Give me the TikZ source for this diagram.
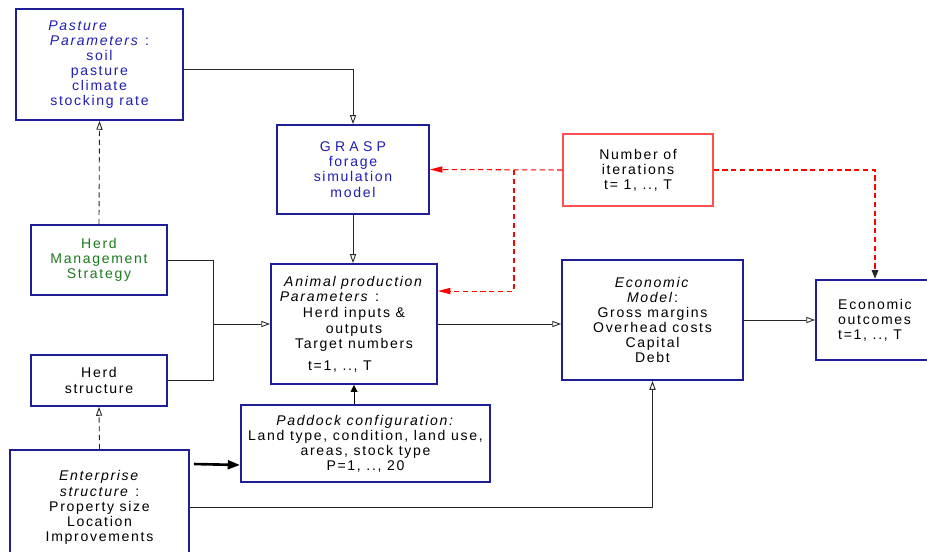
\documentclass[tikz,border=0pt]{standalone}
\usepackage{fontspec}
\setmainfont{Liberation Sans}[LetterSpace=12]
\usetikzlibrary{arrows.meta}
\definecolor{navy}{RGB}{30,30,150}
\definecolor{txtblue}{RGB}{30,30,180}
\definecolor{txtgreen}{RGB}{30,120,30}
\definecolor{itred}{RGB}{255,80,80}
\begin{document}
\begin{tikzpicture}[
    blk/.style={rectangle, draw=navy, line width=1.1pt, align=center, inner sep=2pt, font=\fontsize{8}{8.6}\selectfont},
    itr/.style={blk, draw=itred, line width=0.6pt},
    con/.style={draw=black!85, line width=0.5pt, -{Triangle[open, length=5pt, width=3.5pt]}},
    dsh/.style={con, densely dashed},
    rcon/.style={draw=red, densely dashed, line width=0.6pt, -{Triangle[length=7pt, width=3.5pt]}}
  ]
    \useasboundingbox (0,0) rectangle (18.54,-11.04);
    % boxes
    \node[blk, text=txtblue, minimum width=3.34cm, minimum height=2.22cm] (past) at (1.99,-1.29)
      {\textit{Pasture}\hspace{3em}\mbox{}\\ \textit{Parameters} :\\ soil\\ pasture\\ climate\\ stocking rate};
    \node[blk, text=txtblue, minimum width=3.04cm, minimum height=1.78cm] (grasp) at (7.06,-3.39)
      {{\addfontfeature{LetterSpace=30}GRASP}\\ forage\\ simulation\\ model};
    \node[itr, minimum width=3.0cm, minimum height=1.44cm] (iter) at (12.76,-3.40)
      {Number of\\ iterations\\ t= 1, .., T};
    \node[blk, text=txtgreen, minimum width=2.72cm, minimum height=1.4cm] (hms) at (1.98,-5.2)
      {Herd\\ Management\\ Strategy};
    \node[blk, minimum width=2.72cm, minimum height=1.02cm] (hs) at (1.98,-7.61)
      {Herd\\ structure};
    \node[blk, minimum width=3.32cm, minimum height=2.4cm] (anim) at (7.08,-6.48)
      {\textit{Animal production}\\ \textit{Parameters} :\hspace{3.5em}\mbox{}\\[1pt] Herd inputs \&\\ outputs\\ Target numbers\\[4pt] t=1, .., T\hspace{2em}\mbox{}};
    \node[blk, minimum width=3.62cm, minimum height=2.4cm] (econ) at (13.05,-6.4)
      {\textit{Economic}\\ \textit{Model}:\\ Gross margins\\ Overhead costs\\ Capital\\ Debt};
    \node[blk, align=left, minimum width=2.36cm, minimum height=1.6cm] (outc) at (17.5,-6.4)
      {Economic\\ outcomes\\ t=1, .., T};
    \node[blk, minimum width=4.98cm, minimum height=1.54cm] (pad) at (7.31,-8.87)
      {\textit{Paddock configuration:}\\ Land type, condition, land use,\\ areas, stock type\\ P=1, .., 20};
    \node[blk, minimum width=3.58cm, minimum height=2.3cm] (ent) at (1.99,-10.15)
      {\textit{Enterprise}\\ \textit{structure} :\\ Property size\\ Location\\ Improvements};
    % connectors
    \draw[con] ([yshift=-0.1cm]past.east) -| (grasp.north);
    \draw[dsh] (hms.north) -- (past.south);
    \draw[con] (grasp.south) -- (grasp.south |- anim.north);
    \draw[draw=black!85, line width=0.5pt] (hms.east) -- ++(0.9,0) coordinate (j1) |- (hs.east);
    \draw[con] (j1 |- anim.west) -- (anim.west);
    \draw[rcon] (iter.west) -- (grasp.east);
    \draw[rcon] (10.28,-3.40) coordinate (j2) |- ([yshift=-0.56cm]anim.north east);
    \draw[draw=red, densely dashed, line width=1.4pt, -{Triangle[open, color=black!85, length=5pt, width=3.5pt]}]
      (iter.east) -| (outc.north);
    \draw[con] (anim.east) -- (anim.east -| econ.west);
    \draw[con] (econ.east) -- (outc.west);
    \draw[line width=0.5pt, -{Triangle[length=4pt, width=4pt]}] (anim.south |- pad.north) -- (anim.south);
    \draw[dsh] (ent.north) -- (hs.south);
    \draw[line width=1.5pt, -{Triangle[length=7pt, width=5pt]}] ([shift={(0.08,-0.3)}]ent.north east) -- ([yshift=-0.43cm]pad.west);
    \draw[con] (ent.east) -| (econ.south);
  \end{tikzpicture}
\end{document}
